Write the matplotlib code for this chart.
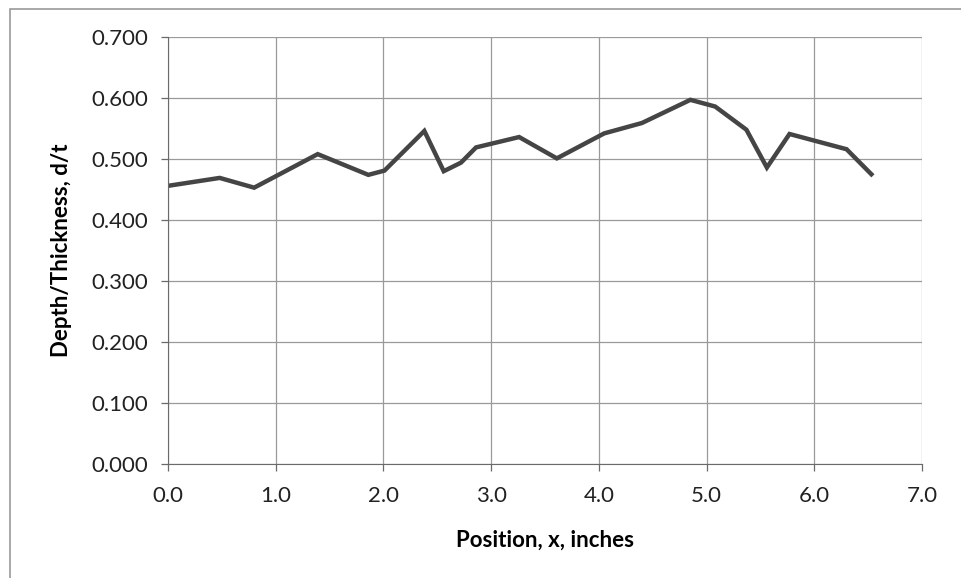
import numpy as np
import matplotlib.pyplot as plt
from matplotlib.patches import Rectangle

# position along the sample, inches
position = [0.00, 0.48, 0.80, 1.39, 1.86, 2.01, 2.38, 2.56, 2.72, 2.86,
            3.26, 3.61, 4.05, 4.40, 4.85, 5.08, 5.37, 5.56, 5.77, 6.30, 6.53]
# depth / thickness ratio
depth_ratio = [0.456, 0.469, 0.453, 0.508, 0.474, 0.481, 0.546, 0.480, 0.494, 0.519,
               0.536, 0.501, 0.542, 0.559, 0.597, 0.586, 0.548, 0.486, 0.541, 0.516, 0.475]

x_ticks = np.arange(0, 7.01, 1.0)
y_ticks = np.arange(0, 0.701, 0.1)

plt.rcParams['font.family'] = ['Lato', 'DejaVu Sans']

fig = plt.figure(figsize=(9.61, 5.78), dpi=100)
ax = fig.add_axes([0.1748, 0.1972, 0.7846, 0.7388])

# outer chart border (right and bottom edges are cut off in the picture)
fig.patches.append(Rectangle((10 / 961, -0.1), 1.2, 1.1 - 9 / 578,
                             transform=fig.transFigure, fill=False,
                             edgecolor='#9a9a9a', linewidth=1.2))

ax.plot(position, depth_ratio, color='#454545', linewidth=3.2,
        solid_joinstyle='miter')

ax.set_xlim(0, 7)
ax.set_ylim(0, 0.7)
ax.set_xticks(x_ticks)
ax.set_yticks(y_ticks)
ax.set_xticklabels([f"{v:.1f}" for v in x_ticks])
ax.set_yticklabels([f"{v:.3f}" for v in y_ticks])

ax.grid(True, color='#9a9a9a', linewidth=0.9)
ax.set_axisbelow(True)

for s in ['top', 'right']:
    ax.spines[s].set_visible(False)
ax.spines['left'].set_color('#6a6a6a')
ax.spines['bottom'].set_color('#6a6a6a')

ax.tick_params(axis='both', direction='out', length=5, width=0.9,
               color='#6a6a6a', labelsize=16, labelcolor='#222222')
ax.tick_params(axis='x', pad=11)
ax.tick_params(axis='y', pad=9)

ax.set_xlabel("Position, x, inches", fontsize=16, fontweight='bold', labelpad=17)
ax.set_ylabel("Depth/Thickness, d/t", fontsize=16, fontweight='bold', labelpad=14)

fig.savefig("out.png", dpi=100)
